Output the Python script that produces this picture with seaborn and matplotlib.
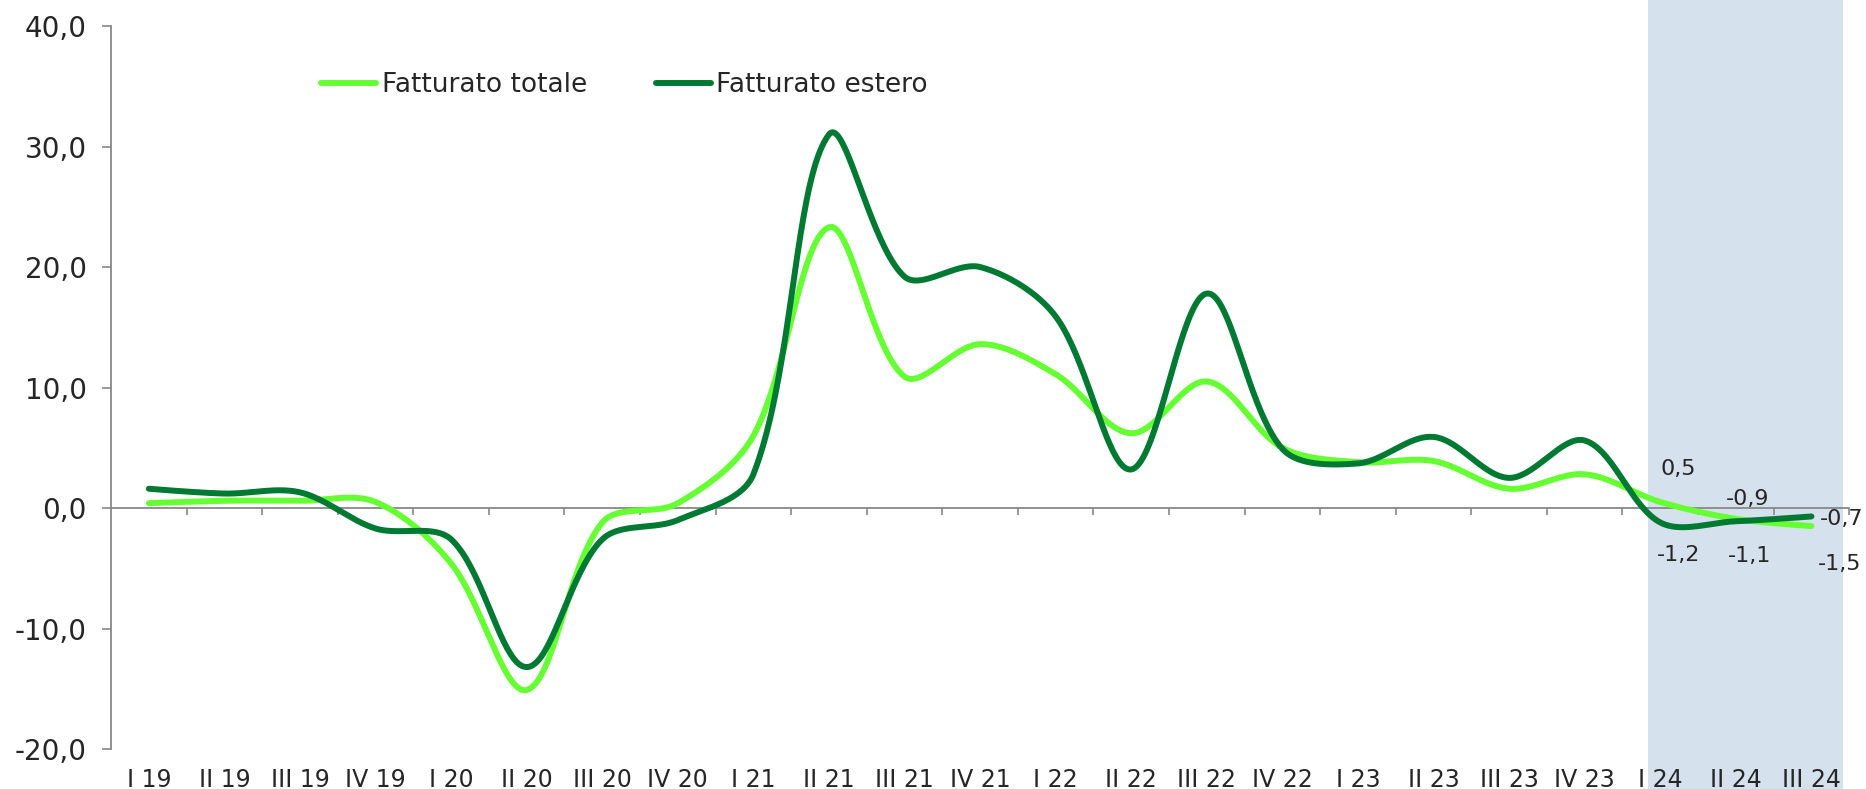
import numpy as np
import pandas as pd
import seaborn as sns
import matplotlib.pyplot as plt

# quarters
quarters = ["I 19", "II 19", "III 19", "IV 19",
            "I 20", "II 20", "III 20", "IV 20",
            "I 21", "II 21", "III 21", "IV 21",
            "I 22", "II 22", "III 22", "IV 22",
            "I 23", "II 23", "III 23", "IV 23",
            "I 24", "II 24", "III 24"]

# % values
totale = [0.4, 0.6, 0.6, 0.5, -4.6, -15.1, -1.2, 0.4, 6.0, 23.3, 10.9, 13.6,
          11.1, 6.2, 10.5, 5.0, 3.8, 3.9, 1.6, 2.8, 0.5, -0.9, -1.5]
estero = [1.6, 1.2, 1.3, -1.7, -2.6, -13.2, -2.6, -1.0, 2.8, 31.0, 19.2, 20.0,
          15.9, 3.2, 17.8, 4.9, 3.7, 5.9, 2.5, 5.6, -1.2, -1.1, -0.7]

series_names = ["Fatturato totale", "Fatturato estero"]
colors = ["#66FF33", "#007A33"]

# pixel size of one category / one unit on y, used to make the smoothing look like excel
PX_X, PX_Y = 75.6, 12.05


def smooth(xs, ys, n=40):
    # bezier through the points, control arms scaled by segment length (screen space)
    xs = np.asarray(xs, float) * PX_X
    ys = np.asarray(ys, float) * PX_Y
    px = np.concatenate([[xs[0]], xs, [xs[-1]]])
    py = np.concatenate([[ys[0]], ys, [ys[-1]]])
    seg = np.hypot(np.diff(px), np.diff(py))
    out_x, out_y = [], []
    t = np.linspace(0, 1, n, endpoint=False)
    for i in range(1, len(px) - 2):
        d0, d1, d2 = seg[i - 1], seg[i], seg[i + 1]
        f1 = d1 / (d0 + d1) / 3 if d0 > 0 else 0
        f2 = d1 / (d1 + d2) / 3 if d2 > 0 else 0
        cx1 = px[i] + (px[i + 1] - px[i - 1]) * f1
        cy1 = py[i] + (py[i + 1] - py[i - 1]) * f1
        cx2 = px[i + 1] - (px[i + 2] - px[i]) * f2
        cy2 = py[i + 1] - (py[i + 2] - py[i]) * f2
        b0, b1, b2, b3 = (1 - t) ** 3, 3 * t * (1 - t) ** 2, 3 * t ** 2 * (1 - t), t ** 3
        out_x.extend(b0 * px[i] + b1 * cx1 + b2 * cx2 + b3 * px[i + 1])
        out_y.extend(b0 * py[i] + b1 * cy1 + b2 * cy2 + b3 * py[i + 1])
    out_x.append(xs[-1])
    out_y.append(ys[-1])
    return np.array(out_x) / PX_X, np.array(out_y) / PX_Y


x = np.arange(len(quarters))
frames = []
for name, vals in zip(series_names, [totale, estero]):
    sx, sy = smooth(x, vals)
    frames.append(pd.DataFrame({"x": sx, "y": sy, "serie": name}))
df = pd.concat(frames, ignore_index=True)

sns.set_style("white")
plt.rcParams["font.family"] = ["DejaVu Sans"]

fig = plt.figure(figsize=(18.66, 7.89), dpi=100)
ax = fig.add_axes([0.0595, 0.0507, 0.9315, 0.9163])

# shaded 2024 band
band = ax.axvspan(19.84, 22.42, ymin=-0.06, ymax=1.06, color="#D6E1EE", zorder=0, lw=0)
band.set_clip_on(False)

sns.lineplot(data=df, x="x", y="y", hue="serie", palette=dict(zip(series_names, colors)),
             sort=False, estimator=None, lw=4.3, ax=ax, legend=False, zorder=3)
for line in ax.lines:
    line.set_solid_capstyle("round")

ax.set_xlim(-0.5, 22.5)
ax.set_ylim(-20, 40)
ax.set_xlabel("")
ax.set_ylabel("")

grey = "#888888"
ax.spines["top"].set_visible(False)
ax.spines["right"].set_visible(False)
ax.spines["left"].set_color(grey)
ax.spines["bottom"].set_color(grey)
ax.spines["bottom"].set_position(("data", 0))
ax.spines["left"].set_linewidth(1.3)
ax.spines["bottom"].set_linewidth(1.3)

yt = np.arange(-20, 41, 10)
ax.set_yticks(yt)
ax.set_yticklabels([f"{v:.1f}".replace(".", ",") for v in yt], fontsize=20)
ax.tick_params(axis="y", direction="out", length=6.5, width=1.2, color=grey, pad=11, left=True)

ax.set_xticks(np.arange(0.5, 23, 1))
ax.set_xticklabels([])
ax.tick_params(axis="x", direction="out", length=5, width=1.2, color=grey, bottom=True)

# category labels at the bottom
secax = ax.secondary_xaxis(0.0)
secax.set_xticks(x, labels=quarters)
secax.tick_params(length=0, pad=14, labelsize=17)
secax.spines["bottom"].set_visible(False)

# data labels for 2024
lab_offsets_tot = [(18, 33), (12, 20), (28, -38)]
lab_offsets_est = [(18, -33), (14, -35), (30, -3)]
for k, i in enumerate(range(20, 23)):
    for vals, offs in [(totale, lab_offsets_tot), (estero, lab_offsets_est)]:
        ax.annotate(f"{vals[i]:.1f}".replace(".", ","), (x[i], vals[i]),
                    xytext=offs[k], textcoords="offset pixels",
                    ha="center", va="center", fontsize=16, annotation_clip=False, zorder=5)

handles = [plt.Line2D([], [], color=c, lw=4.3, solid_capstyle="round") for c in colors]
fig.legend(handles, series_names, loc="center left", bbox_to_anchor=(321 / 1866, 1 - 85 / 789),
           ncol=2, frameon=False, fontsize=19, handlelength=2.1, handletextpad=0.2,
           columnspacing=2.6, borderpad=0, borderaxespad=0)

fig.savefig("out.png", dpi=100)
